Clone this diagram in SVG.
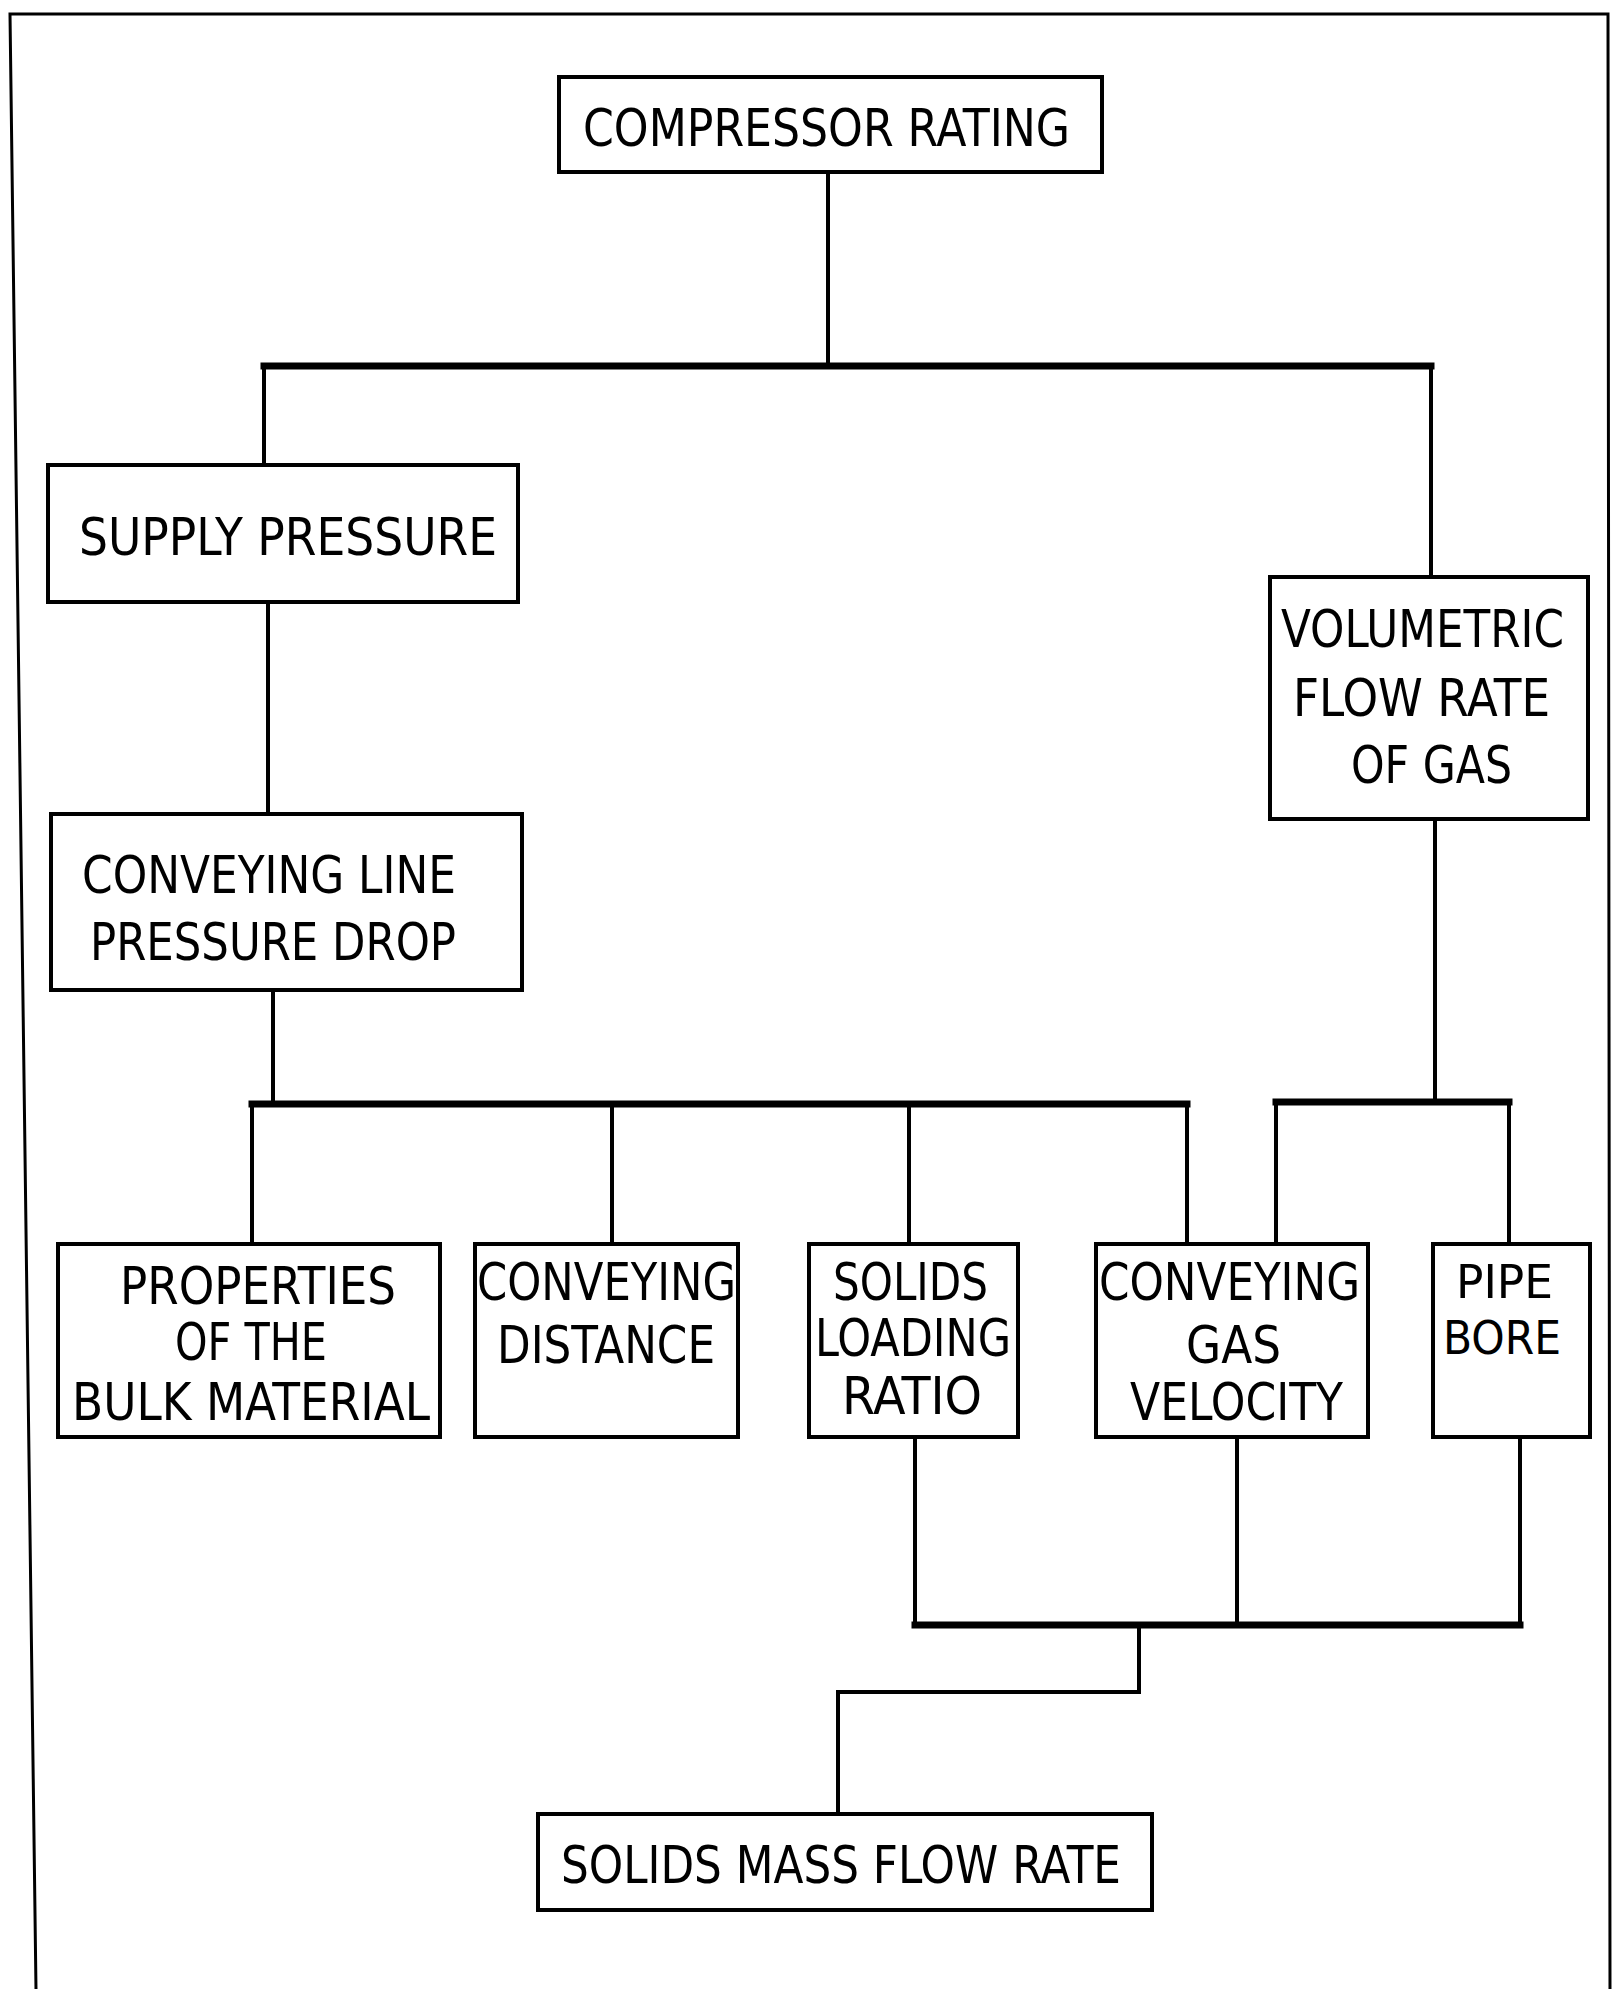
<svg xmlns="http://www.w3.org/2000/svg" width="1613" height="1989" viewBox="0 0 1613 1989">
<style>
.box{fill:#fff;stroke:#000;stroke-width:4}
.t{font-family:"DejaVu Sans Condensed","DejaVu Sans",sans-serif;font-size:52px;fill:#000}
.s{font-size:46px}
.ln{fill:none;stroke:#000;stroke-width:4;stroke-linecap:square}
.bus{fill:none;stroke:#000;stroke-width:7;stroke-linecap:square}
</style>
<rect width="1613" height="1989" fill="#fff"/>
<polyline points="36,1989 10,14 1608,14 1610,1989" fill="none" stroke="#000" stroke-width="3"/>
<g id="connectors">
<polyline class="ln" points="828,172 828,366"/>
<polyline class="bus" points="264,366 1431,366"/>
<polyline class="ln" points="264,366 264,465"/>
<polyline class="ln" points="1431,366 1431,577"/>
<polyline class="ln" points="268,602 268,814"/>
<polyline class="ln" points="273,990 273,1104"/>
<polyline class="bus" points="252,1104 1187,1104"/>
<polyline class="ln" points="252,1104 252,1244"/>
<polyline class="ln" points="612,1104 612,1244"/>
<polyline class="ln" points="909,1104 909,1244"/>
<polyline class="ln" points="1187,1104 1187,1244"/>
<polyline class="ln" points="1435,819 1435,1102"/>
<polyline class="bus" points="1276,1102 1509,1102"/>
<polyline class="ln" points="1276,1102 1276,1244"/>
<polyline class="ln" points="1509,1102 1509,1244"/>
<polyline class="ln" points="915,1437 915,1625"/>
<polyline class="ln" points="1237,1437 1237,1625"/>
<polyline class="ln" points="1520,1437 1520,1625"/>
<polyline class="bus" points="915,1625 1520,1625"/>
<polyline class="ln" points="1139,1625 1139,1692 838,1692 838,1814"/>
</g>
<g id="compressor-rating">
<rect class="box" x="559" y="77" width="543" height="95"/>
<text class="t" x="583" y="146" textLength="487" lengthAdjust="spacingAndGlyphs">COMPRESSOR RATING</text>
</g>
<g id="supply-pressure">
<rect class="box" x="48" y="465" width="470" height="137"/>
<text class="t" x="79" y="555" textLength="418" lengthAdjust="spacingAndGlyphs">SUPPLY PRESSURE</text>
</g>
<g id="volumetric-flow-rate">
<rect class="box" x="1270" y="577" width="318" height="242"/>
<text class="t" x="1281" y="647" textLength="283" lengthAdjust="spacingAndGlyphs">VOLUMETRIC</text>
<text class="t" x="1293" y="716" textLength="257" lengthAdjust="spacingAndGlyphs">FLOW RATE</text>
<text class="t" x="1351" y="783" textLength="161" lengthAdjust="spacingAndGlyphs">OF GAS</text>
</g>
<g id="conveying-line-pressure-drop">
<rect class="box" x="51" y="814" width="471" height="176"/>
<text class="t" x="82" y="893" textLength="374" lengthAdjust="spacingAndGlyphs">CONVEYING LINE</text>
<text class="t" x="90" y="960" textLength="366" lengthAdjust="spacingAndGlyphs">PRESSURE DROP</text>
</g>
<g id="properties">
<rect class="box" x="58" y="1244" width="382" height="193"/>
<text class="t" x="120" y="1304" textLength="276" lengthAdjust="spacingAndGlyphs">PROPERTIES</text>
<text class="t" x="175" y="1360" textLength="152" lengthAdjust="spacingAndGlyphs">OF THE</text>
<text class="t" x="72" y="1420" textLength="358" lengthAdjust="spacingAndGlyphs">BULK MATERIAL</text>
</g>
<g id="conveying-distance">
<rect class="box" x="475" y="1244" width="263" height="193"/>
<text class="t" x="477" y="1300" textLength="259" lengthAdjust="spacingAndGlyphs">CONVEYING</text>
<text class="t" x="497" y="1363" textLength="218" lengthAdjust="spacingAndGlyphs">DISTANCE</text>
</g>
<g id="solids-loading-ratio">
<rect class="box" x="809" y="1244" width="209" height="193"/>
<text class="t" x="833" y="1300" textLength="155" lengthAdjust="spacingAndGlyphs">SOLIDS</text>
<text class="t" x="815" y="1356" textLength="196" lengthAdjust="spacingAndGlyphs">LOADING</text>
<text class="t" x="842" y="1414" textLength="140" lengthAdjust="spacingAndGlyphs">RATIO</text>
</g>
<g id="conveying-gas-velocity">
<rect class="box" x="1096" y="1244" width="272" height="193"/>
<text class="t" x="1099" y="1300" textLength="261" lengthAdjust="spacingAndGlyphs">CONVEYING</text>
<text class="t" x="1186" y="1363" textLength="95" lengthAdjust="spacingAndGlyphs">GAS</text>
<text class="t" x="1130" y="1420" textLength="213" lengthAdjust="spacingAndGlyphs">VELOCITY</text>
</g>
<g id="pipe-bore">
<rect class="box" x="1433" y="1244" width="157" height="193"/>
<text class="t s" x="1456" y="1298" textLength="97" lengthAdjust="spacingAndGlyphs">PIPE</text>
<text class="t s" x="1443" y="1354" textLength="118" lengthAdjust="spacingAndGlyphs">BORE</text>
</g>
<g id="solids-mass-flow-rate">
<rect class="box" x="538" y="1814" width="614" height="96"/>
<text class="t" x="561" y="1883" textLength="560" lengthAdjust="spacingAndGlyphs">SOLIDS MASS FLOW RATE</text>
</g>
</svg>
